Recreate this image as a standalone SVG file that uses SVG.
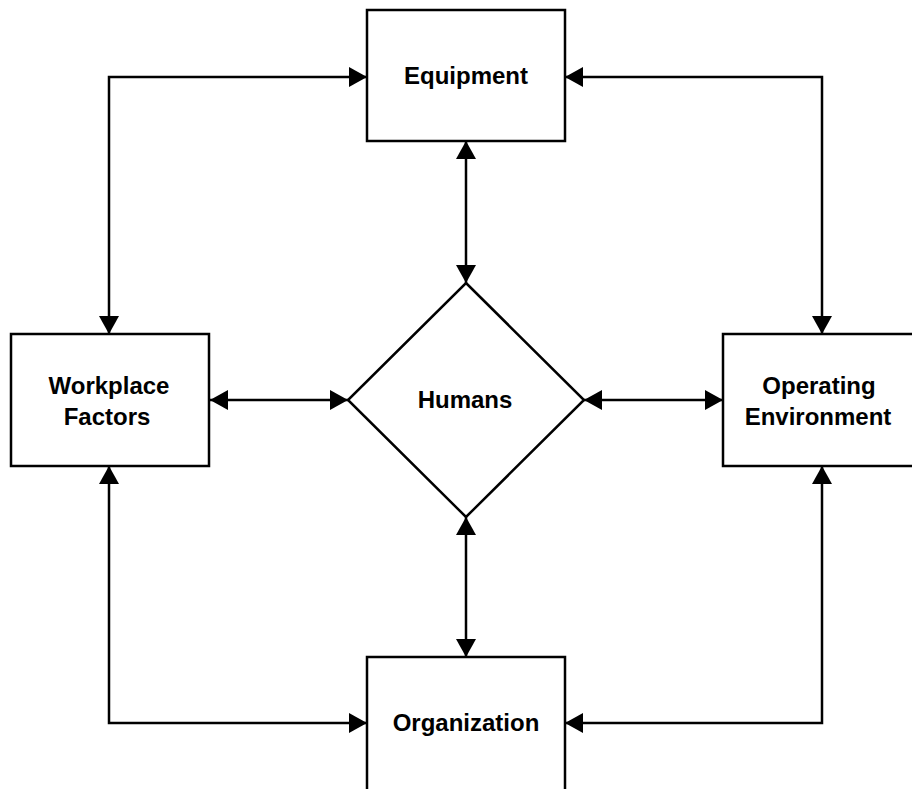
<svg xmlns="http://www.w3.org/2000/svg" width="912" height="789" viewBox="0 0 912 789">
  <style>
    .box { fill: #ffffff; stroke: #000000; stroke-width: 2.5; }
    .label { font-family: "Liberation Sans", Arial, sans-serif; font-weight: bold; font-size: 24px; fill: #000000; text-anchor: middle; }
    .link { fill: none; stroke: #000000; stroke-width: 2.5; marker-start: url(#arrow); marker-end: url(#arrow); }
  </style>
  <defs>
    <marker id="arrow" markerUnits="userSpaceOnUse" markerWidth="18" markerHeight="20" refX="18" refY="10" orient="auto-start-reverse" viewBox="0 0 18 20">
      <path d="M0,0 L18,10 L0,20 Z" fill="#000000"/>
    </marker>
  </defs>
  <rect width="912" height="789" fill="#ffffff"/>

  <!-- connectors -->
  <g id="connectors">
    <path class="link" d="M466,141 L466,283"/>
    <path class="link" d="M466,517 L466,657"/>
    <path class="link" d="M210,400 L348,400"/>
    <path class="link" d="M584,400 L723,400"/>
    <path class="link" d="M109,334 L109,77 L367,77"/>
    <path class="link" d="M565,77 L822,77 L822,334"/>
    <path class="link" d="M109,466 L109,723 L367,723"/>
    <path class="link" d="M822,466 L822,723 L565,723"/>
  </g>

  <g id="equipment">
    <rect class="box" x="367" y="10" width="198" height="131"/>
    <text class="label" x="466" y="84">Equipment</text>
  </g>

  <g id="workplace-factors">
    <rect class="box" x="11" y="334" width="198" height="132"/>
    <text class="label" x="109" y="394">Workplace</text>
    <text class="label" x="107" y="425">Factors</text>
  </g>

  <g id="humans">
    <polygon class="box" points="466,283 584,400 466,517 348,400"/>
    <text class="label" x="465" y="408">Humans</text>
  </g>

  <g id="operating-environment">
    <rect class="box" x="723" y="334" width="198" height="132"/>
    <text class="label" x="819" y="394">Operating</text>
    <text class="label" x="818" y="425">Environment</text>
  </g>

  <g id="organization">
    <rect class="box" x="367" y="657" width="198" height="134"/>
    <text class="label" x="466" y="731">Organization</text>
  </g>
</svg>
